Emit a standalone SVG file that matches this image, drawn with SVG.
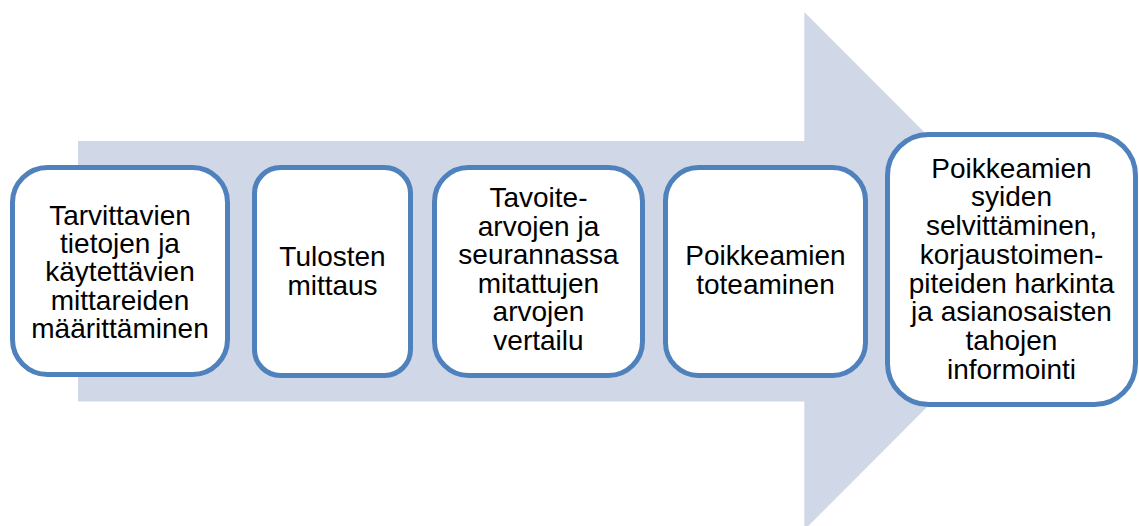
<svg xmlns="http://www.w3.org/2000/svg" width="1139" height="526" viewBox="0 0 1139 526">
<style>
.box{fill:#FFFFFF;stroke:#4F81BD;stroke-width:5}
.lbl{font-family:"Liberation Sans",Arial,sans-serif;font-size:28px;fill:#000000;text-anchor:middle}
</style>
<rect width="1139" height="526" fill="#FFFFFF"/>
<g id="arrow">
<path d="M78,141 L804.3,141 L804.3,12 L1063,271 L804.3,530 L804.3,401.5 L78,401.5 Z" fill="#D0D8E8"/>
</g>
<g id="connectors"></g>
<g id="node1">
<rect class="box" x="12.5" y="167.5" width="215" height="207" rx="35"/>
<text class="lbl"><tspan x="120" y="224.5">Tarvittavien</tspan><tspan x="120" y="252.9">tietojen ja</tspan><tspan x="120" y="281.3">käytettävien</tspan><tspan x="120" y="309.7">mittareiden</tspan><tspan x="120" y="338.1">määrittäminen</tspan></text>
</g>
<g id="node2">
<rect class="box" x="254.5" y="167.5" width="156" height="208" rx="26"/>
<text class="lbl"><tspan x="332.5" y="266">Tulosten</tspan><tspan x="332.5" y="295">mittaus</tspan></text>
</g>
<g id="node3">
<rect class="box" x="434.5" y="167.5" width="208" height="208" rx="34"/>
<text class="lbl"><tspan x="538.5" y="207.3">Tavoite-</tspan><tspan x="538.5" y="235.8">arvojen ja</tspan><tspan x="538.5" y="264.3">seurannassa</tspan><tspan x="538.5" y="292.8">mitattujen</tspan><tspan x="538.5" y="321.3">arvojen</tspan><tspan x="538.5" y="349.8">vertailu</tspan></text>
</g>
<g id="node4">
<rect class="box" x="665.5" y="167.5" width="200" height="208" rx="33"/>
<text class="lbl"><tspan x="765.5" y="265">Poikkeamien</tspan><tspan x="765.5" y="294">toteaminen</tspan></text>
</g>
<g id="node5">
<rect class="box" x="887.5" y="134.5" width="248" height="270" rx="41"/>
<text class="lbl"><tspan x="1011.5" y="177.7">Poikkeamien</tspan><tspan x="1011.5" y="206.45">syiden</tspan><tspan x="1011.5" y="235.2">selvittäminen,</tspan><tspan x="1011.5" y="263.95">korjaustoimen-</tspan><tspan x="1011.5" y="292.7">piteiden harkinta</tspan><tspan x="1011.5" y="321.45">ja asianosaisten</tspan><tspan x="1011.5" y="350.2">tahojen</tspan><tspan x="1011.5" y="378.95">informointi</tspan></text>
</g>
</svg>
